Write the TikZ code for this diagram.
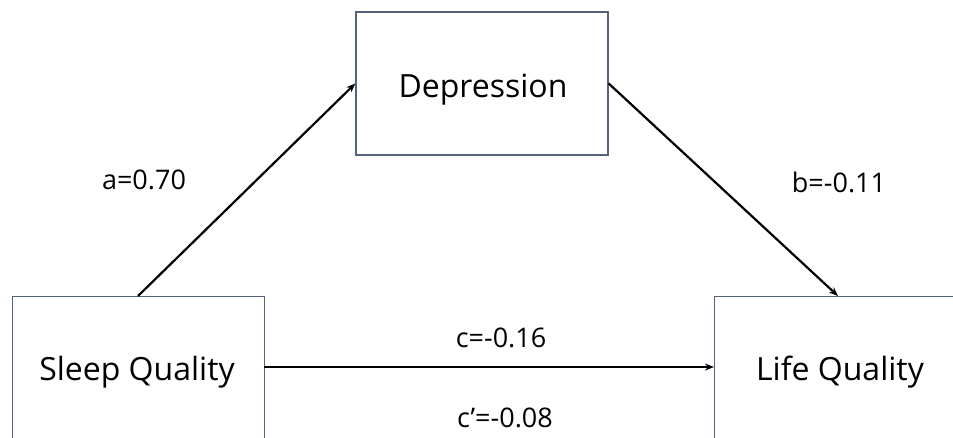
\documentclass[tikz,border=0pt]{standalone}
\usepackage{fontspec}
\setmainfont{Open Sans}
\usetikzlibrary{arrows.meta}
\definecolor{boxline}{RGB}{84,98,128}
\tikzset{
  box/.style={draw=boxline, line width=1.4pt, fill=white, inner sep=0pt},
  btext/.style={font=\fontsize{32}{38}\selectfont, inner sep=0pt, anchor=base},
  conn/.style={line width=2.2pt, -{Stealth[length=9pt,width=7pt]}},
  lab/.style={font=\fontsize{27}{32}\selectfont, inner sep=0pt, anchor=base}
}
\begin{document}
\begin{tikzpicture}[x=1pt,y=-1pt]
\useasboundingbox (0,0) rectangle (953,437);
\clip (0,0) rectangle (953,437);
\node[box, minimum width=252pt, minimum height=143pt] (dep) at (482,83.5) {};
\node[btext] (dept) at (483,97) {Depression};
\node[box, minimum width=252pt, minimum height=143pt, anchor=north west] (sq) at (12,296) {};
\node[btext] (sqt) at (137,380) {Sleep Quality};
\node[box, minimum width=252pt, minimum height=143pt, anchor=north west] (lq) at (714,296) {};
\node[btext] (lqt) at (840,380) {Life Quality};
\coordinate (sqtop) at (138,296);
\coordinate (sqright) at (264,367);
\coordinate (lqtop) at (838,296);
\coordinate (lqleft) at (714,367);
\draw[conn] (sqtop) -- (dep.west);
\draw[conn] (dep.east) -- (lqtop);
\draw[conn] (sqright) -- (lqleft);
\node[lab] (la) at (144,189) {a=0.70};
\node[lab] (lb) at (839,192) {b=-0.11};
\node[lab] (lc) at (501,347) {c=-0.16};
\node[lab] (lcp) at (505,427) {c'=-0.08};
\end{tikzpicture}
\end{document}
